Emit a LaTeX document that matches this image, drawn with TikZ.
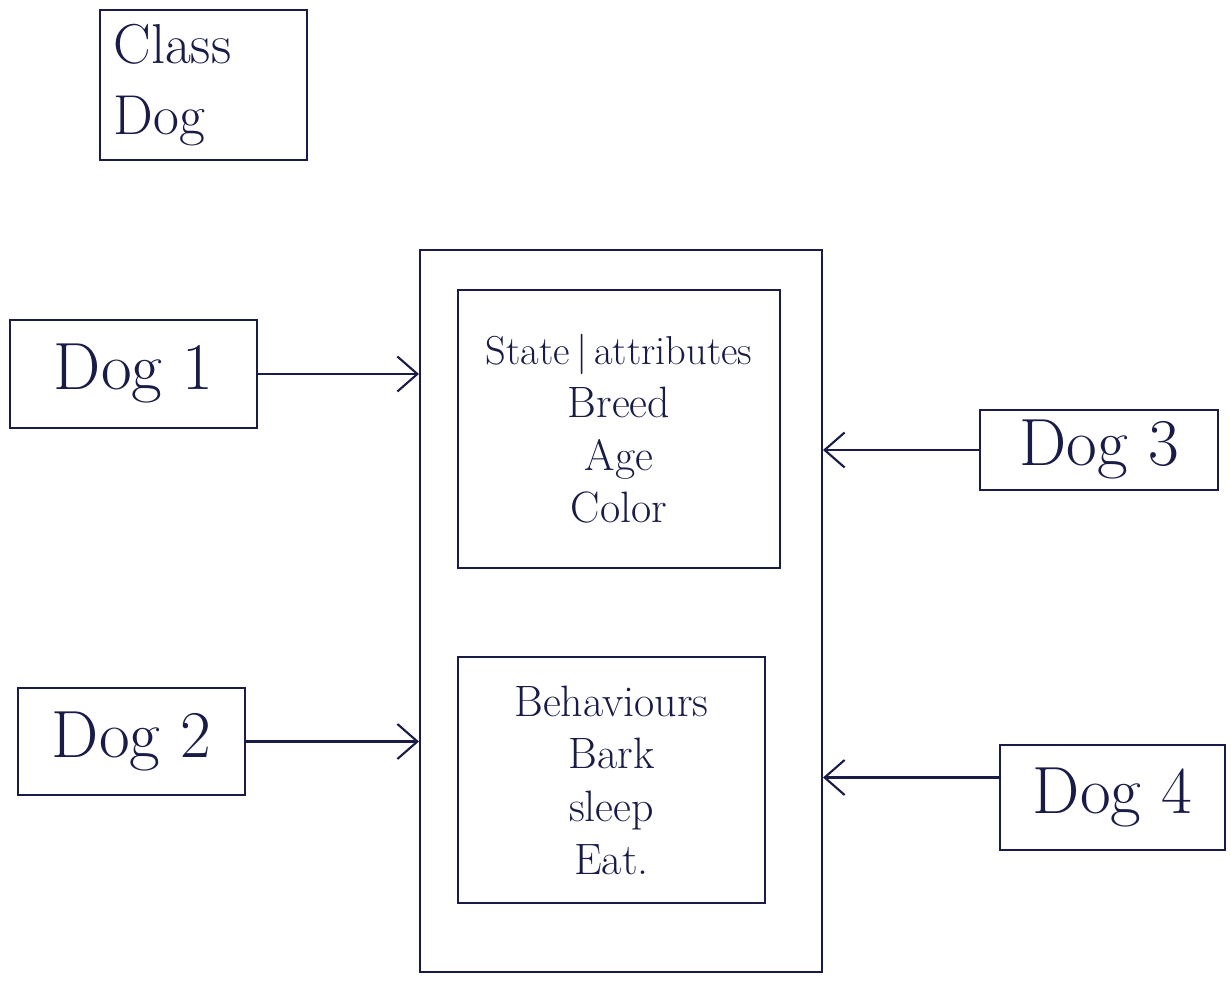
\documentclass[tikz,border=0pt]{standalone}
\usetikzlibrary{arrows.meta}
\definecolor{ink}{RGB}{24,28,70}
\begin{document}
\begin{tikzpicture}[x=0.02cm, y=-0.02cm, ink, line width=1.2pt,
  box/.style={draw, inner sep=0pt},
  dogbox/.style={box, font=\fontsize{38}{44}\selectfont},
  part/.style={box, align=center, font=\fontsize{25}{30}\selectfont},
  link/.style={-{Straight Barb[length=4mm,width=7mm,line width=1.2pt]}}]
\useasboundingbox (0,0) rectangle (1231,987);

% class name
\node [box, minimum width=4.14cm, minimum height=3cm, text width=3.6cm, align=left,
       font=\fontsize{32}{40}\selectfont] (classdog) at (203.5,85) {Class\\Dog};

% the class with its state and behaviours
\node [box, minimum width=8.04cm, minimum height=14.44cm] (dogclass) at (621,611) {};
\node [part, minimum width=6.44cm, minimum height=5.56cm] (state) at (619,429)
      {\fontsize{23}{30}\selectfont State\,|\,attributes\\Breed\\Age\\Color};
\node [part, minimum width=6.14cm, minimum height=4.92cm] (behave) at (611.5,780)
      {Behaviours\\Bark\\sleep\\Eat.};

% the objects
\node [dogbox, minimum width=4.94cm, minimum height=2.16cm] (dog1) at (133.5,374) {Dog 1};
\node [dogbox, minimum width=4.54cm, minimum height=2.14cm] (dog2) at (131.5,741.5) {Dog 2};
\node [dogbox, minimum width=4.76cm, minimum height=1.6cm]  (dog3) at (1099,450) {Dog 3};
\node [dogbox, minimum width=4.5cm,  minimum height=2.1cm]  (dog4) at (1112.5,797.5) {Dog 4};

\draw [link] (dog1.east) -- (dog1.east -| dogclass.west);
\draw [link] (dog2.east) -- (dog2.east -| dogclass.west);
\draw [link] (dog3.west) -- (dog3.west -| dogclass.east);
\draw [link] (dog4.170) -- (dog4.170 -| dogclass.east);

\end{tikzpicture}
\end{document}
